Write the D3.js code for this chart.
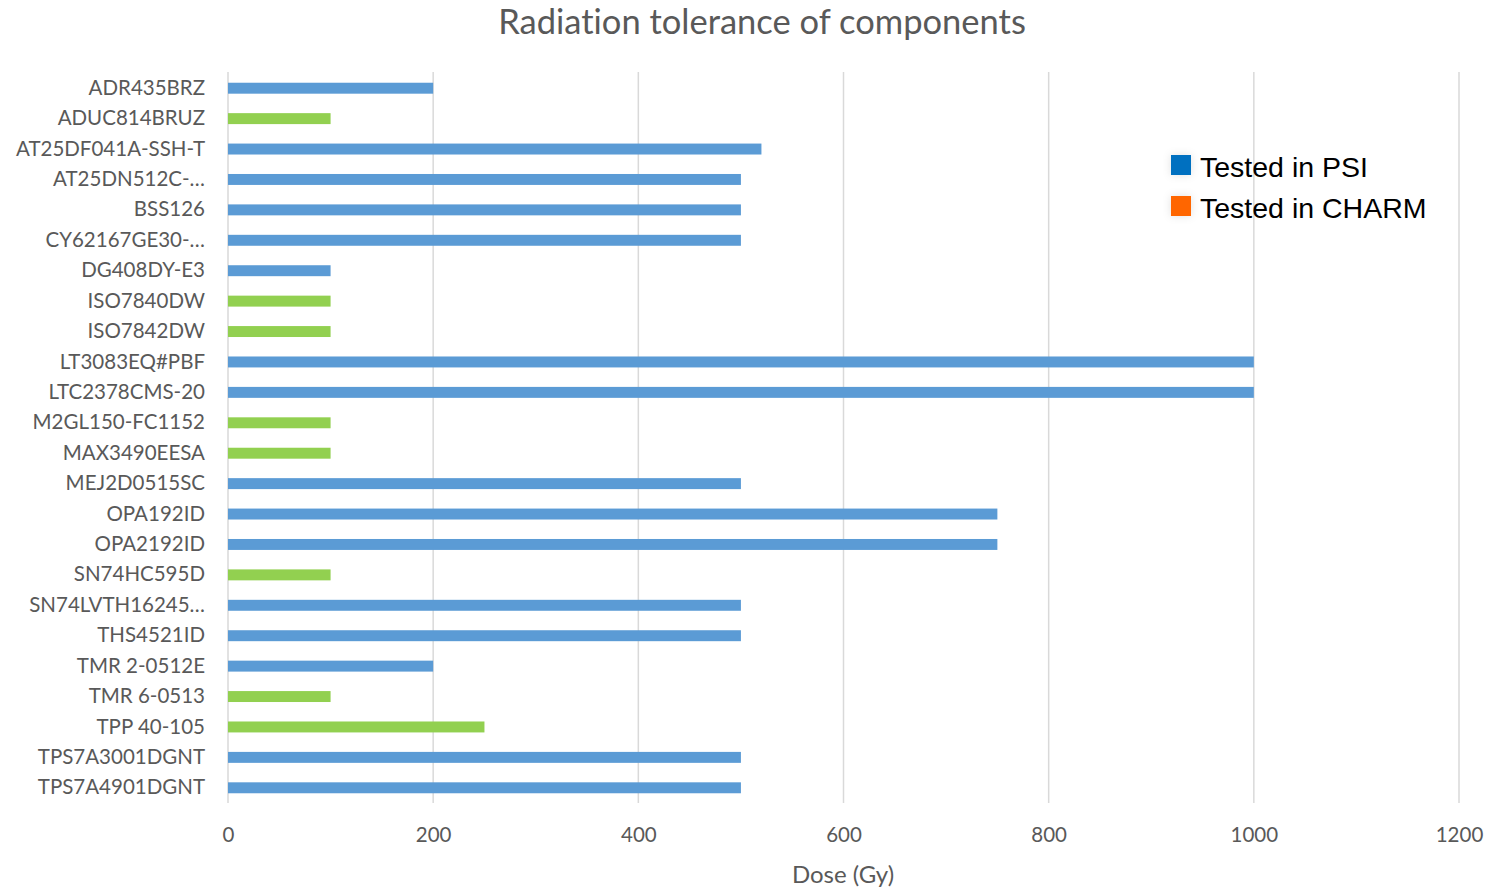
<!DOCTYPE html>
<html>
<head>
<meta charset="utf-8">
<script src="https://cdn.jsdelivr.net/npm/d3@7"></script>
<style>
  html, body { margin: 0; padding: 0; background: #fff; }
  svg { display: block; }
  text { font-variant-ligatures: none; font-feature-settings: "liga" 0; }
</style>
</head>
<body>
<svg id="chart" width="1490" height="888"></svg>
<script>
// Components, their tolerated dose (Gy) and which facility tested them
const components = [
  "ADR435BRZ", "ADUC814BRUZ", "AT25DF041A-SSH-T", "AT25DN512C-…", "BSS126",
  "CY62167GE30-…", "DG408DY-E3", "ISO7840DW", "ISO7842DW", "LT3083EQ#PBF",
  "LTC2378CMS-20", "M2GL150-FC1152", "MAX3490EESA", "MEJ2D0515SC", "OPA192ID",
  "OPA2192ID", "SN74HC595D", "SN74LVTH16245…", "THS4521ID", "TMR 2-0512E",
  "TMR 6-0513", "TPP 40-105", "TPS7A3001DGNT", "TPS7A4901DGNT"
];
const doses = [
  200, 100, 520, 500, 500,
  500, 100, 100, 100, 1000,
  1000, 100, 100, 500, 750,
  750, 100, 500, 500, 200,
  100, 250, 500, 500
];
const facility = [
  "PSI", "CHARM", "PSI", "PSI", "PSI",
  "PSI", "PSI", "CHARM", "CHARM", "PSI",
  "PSI", "CHARM", "CHARM", "PSI", "PSI",
  "PSI", "CHARM", "PSI", "PSI", "PSI",
  "CHARM", "CHARM", "PSI", "PSI"
];
const xTicks = [0, 200, 400, 600, 800, 1000, 1200];
const legendLabels = ["Tested in PSI", "Tested in CHARM"];
const legendKeys = ["PSI", "CHARM"];

const barColor = { PSI: "#5B9BD5", CHARM: "#92D050" };
const legendColor = { PSI: "#0070C0", CHARM: "#FF6600" };

const svg = d3.select("#chart");
const font = "Lato, 'Open Sans', sans-serif";

const x = d3.scaleLinear().domain([0, 1200]).range([228, 1459]);
const y = d3.scaleBand().domain(components).range([73, 803]).paddingInner(0.64).paddingOuter(0.32);

// Title
svg.append("text")
  .attr("x", 762).attr("y", 34)
  .attr("text-anchor", "middle")
  .attr("font-family", font).attr("font-size", 34.5)
  .attr("fill", "#595959")
  .text("Radiation tolerance of components");

// Vertical gridlines
svg.append("g").selectAll("line").data(xTicks).join("line")
  .attr("x1", d => x(d)).attr("x2", d => x(d))
  .attr("y1", 72).attr("y2", 803)
  .attr("stroke", "#D9D9D9").attr("stroke-width", 1.5);

// Bars
svg.append("g").selectAll("rect").data(components).join("rect")
  .attr("x", x(0))
  .attr("y", d => y(d))
  .attr("width", (d, i) => x(doses[i]) - x(0))
  .attr("height", y.bandwidth())
  .attr("fill", (d, i) => barColor[facility[i]]);

// Category axis
const yAxis = svg.append("g")
  .attr("transform", `translate(${x(0)},0)`)
  .call(d3.axisLeft(y).tickSize(0).tickPadding(23));
yAxis.select(".domain").remove();
yAxis.selectAll("text")
  .attr("font-family", font).attr("font-size", 20.5)
  .attr("fill", "#595959");

// Value axis
const xAxis = svg.append("g")
  .attr("transform", "translate(0,823)")
  .call(d3.axisBottom(x).tickValues(xTicks).tickFormat(d3.format("d")).tickSize(0).tickPadding(4));
xAxis.select(".domain").remove();
xAxis.selectAll("text")
  .attr("font-family", font).attr("font-size", 20.5)
  .attr("fill", "#595959");

// Axis title
svg.append("text")
  .attr("x", 843).attr("y", 883)
  .attr("text-anchor", "middle")
  .attr("font-family", font).attr("font-size", 24)
  .attr("fill", "#595959")
  .text("Dose (Gy)");

// Legend
const defs = svg.append("defs");
const glow = defs.append("filter").attr("id", "glow")
  .attr("x", "-100%").attr("y", "-100%").attr("width", "300%").attr("height", "300%");
glow.append("feGaussianBlur").attr("in", "SourceAlpha").attr("stdDeviation", 4).attr("result", "b");
glow.append("feFlood").attr("flood-color", "#000").attr("flood-opacity", 0.12);
glow.append("feComposite").attr("in2", "b").attr("operator", "in").attr("result", "s");
const merge = glow.append("feMerge");
merge.append("feMergeNode").attr("in", "s");
merge.append("feMergeNode").attr("in", "SourceGraphic");

const legend = svg.append("g").attr("transform", "translate(1171,155)");
const item = legend.selectAll("g").data(legendKeys).join("g")
  .attr("transform", (d, i) => `translate(0,${i * 41})`);
item.append("rect")
  .attr("width", 20).attr("height", 20)
  .attr("fill", d => legendColor[d])
  .attr("filter", "url(#glow)");
item.append("text")
  .attr("x", 29).attr("y", 22)
  .attr("font-family", "'Liberation Sans', Arial, sans-serif").attr("font-size", 28.5)
  .attr("fill", "#000")
  .text((d, i) => legendLabels[i]);
</script>
</body>
</html>
